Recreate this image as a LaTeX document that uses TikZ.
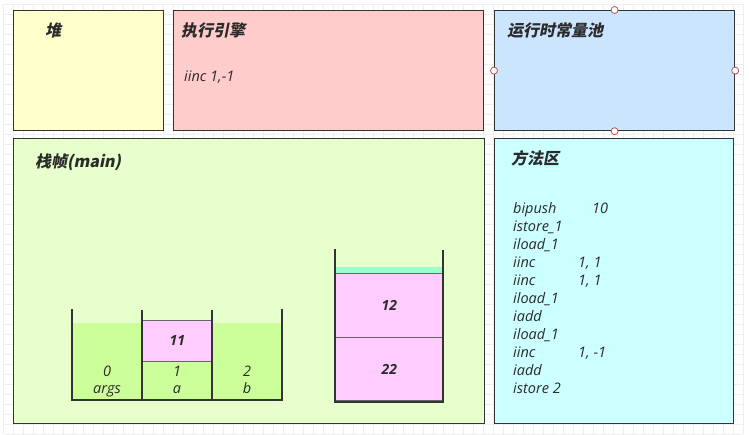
\documentclass[tikz,border=0pt]{standalone}
\usepackage{fontspec}
\setmainfont{Open Sans}
\newfontfamily\cjk{Noto Sans CJK SC}[FakeSlant=0.2, BoldFeatures={FakeSlant=0.2}]
\definecolor{gridc}{HTML}{EEEEEE}
\definecolor{boxline}{HTML}{333333}
\definecolor{txt}{HTML}{2B2B2B}
\definecolor{heapc}{HTML}{FFFFCC}
\definecolor{enginec}{HTML}{FFCCCC}
\definecolor{poolc}{HTML}{CCE5FF}
\definecolor{framec}{HTML}{E6FFCC}
\definecolor{methodc}{HTML}{CCFFFF}
\definecolor{greenc}{HTML}{CCFF99}
\definecolor{pinkc}{HTML}{FFCCFF}
\definecolor{cyanc}{HTML}{99FFCC}
\definecolor{circc}{HTML}{B85450}
\begin{document}
\begin{tikzpicture}[x=1pt,y=-1pt,
  box/.style={draw=boxline, line width=1.2pt, anchor=north west, inner sep=0pt},
  title/.style={anchor=base west, inner sep=0pt, text=txt, font=\cjk\bfseries\fontsize{16}{19}\selectfont},
  code/.style={anchor=base west, inner sep=0pt, text=txt, font=\itshape\fontsize{14.5}{18}\selectfont},
  lbl/.style={anchor=base, inner sep=0pt, text=txt, font=\itshape\fontsize{14.5}{18}\selectfont},
  cell/.style={draw=black!60, line width=0.9pt, fill=pinkc, anchor=north west, inner sep=0pt,
    text=txt, font=\bfseries\itshape\fontsize{14}{17}\selectfont},
  wall/.style={draw=boxline, line width=2pt},
  handle/.style={circle, draw=circc, fill=white, minimum size=7pt, inner sep=0pt, line width=0.8pt}]
\useasboundingbox (0,0) rectangle (749,434);
\fill[white] (0,0) rectangle (749,434);
\foreach \x in {3,13,...,743} \draw[gridc, line width=0.6pt] (\x,4) -- (\x,434);
\foreach \y in {4,14,...,434} \draw[gridc, line width=0.6pt] (5,\y) -- (743,\y);

% boxes
\node[box, fill=heapc, minimum width=150pt, minimum height=120pt] (heap) at (13,10) {};
\node[box, fill=enginec, minimum width=310pt, minimum height=120pt] (engine) at (173,10) {};
\node[box, fill=poolc, minimum width=240pt, minimum height=120pt] (pool) at (494,10) {};
\node[box, fill=framec, minimum width=471pt, minimum height=285pt] (frame) at (13,138) {};
\node[box, fill=methodc, minimum width=239pt, minimum height=285pt] (method) at (494,138) {};

% handles on pool
\node[handle] (hn) at (pool.north) {};
\node[handle] (hs) at (pool.south) {};
\node[handle] (hw) at (pool.west) {};
\node[handle] (he) at (pool.east) {};

% titles
\node[title] (heapT) at (45,36) {堆};
\node[title] (engineT) at (181,36) {执行引擎};
\node[title] (poolT) at (507,36) {运行时常量池};
\node[title] (frameT) at (35,167) {栈帧(main)};
\node[title] (methodT) at (511,164) {方法区};

\node[code] (eng1) at (184,81.5) {iinc 1,-1};

% method area code
\foreach \i/\a in {0/bipush, 1/istore\_1, 2/iload\_1, 3/iinc, 4/iinc,
  5/iload\_1, 6/iadd, 7/iload\_1, 8/iinc, 9/iadd, 10/istore\ 2} {
  \node[code] (ma\i) at (513,213+18*\i) {\a};
}
\node[code] (mb0) at (592,213) {10};
\node[code] (mb3) at (578,267) {1, 1};
\node[code] (mb4) at (578,285) {1, 1};
\node[code] (mb8) at (578,357) {1, -1};

% local variable table
\fill[greenc] (72,323) rectangle (282,400);
\node[cell, minimum width=70pt, minimum height=41pt] (v11) at (142,320) {11};
\draw[wall] (72,309) -- (72,400) -- (282,400) -- (282,309);
\draw[wall] (142,310) -- (142,400);
\draw[wall] (212,310) -- (212,400);
\node[lbl] (l0) at (107,376) {0};
\node[lbl] (l1) at (177,376) {1};
\node[lbl] (l2) at (247,376) {2};
\node[lbl] (n0) at (107,393) {args};
\node[lbl] (n1) at (177,393) {a};
\node[lbl] (n2) at (247,393) {b};

% operand stack
\fill[cyanc] (335,267) rectangle (443,273);
\node[cell, minimum width=108pt, minimum height=64.5pt] (s12) at (335,272.5) {12};
\node[cell, minimum width=108pt, minimum height=63pt] (s22) at (335,337) {22};
\draw[wall] (335,249) -- (335,402) -- (443,402) -- (443,250);
\end{tikzpicture}
\end{document}
